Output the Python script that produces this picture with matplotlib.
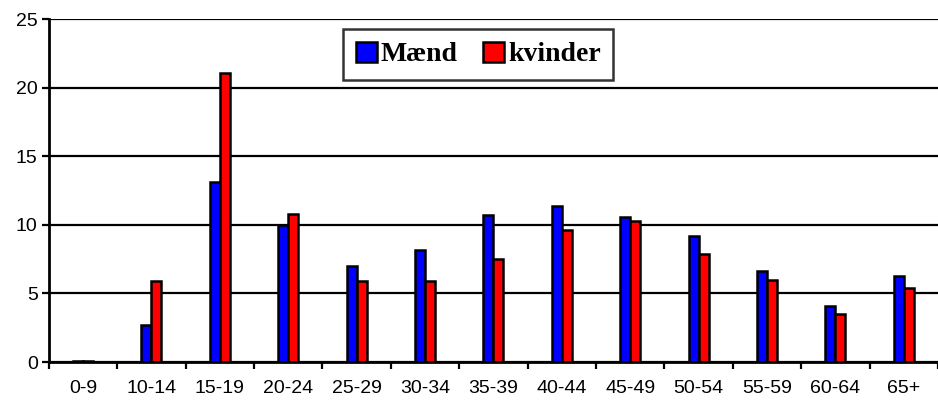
import matplotlib.pyplot as plt
import numpy as np

age_groups = ["0-9", "10-14", "15-19", "20-24", "25-29", "30-34", "35-39",
              "40-44", "45-49", "50-54", "55-59", "60-64", "65+"]
maend = [0.1, 2.7, 13.1, 10.0, 7.0, 8.2, 10.7, 11.4, 10.6, 9.2, 6.6, 4.1, 6.3]
kvinder = [0.1, 5.9, 21.1, 10.8, 5.9, 5.9, 7.5, 9.6, 10.3, 7.9, 6.0, 3.5, 5.4]

plt.rcParams["font.family"] = ["Liberation Sans", "DejaVu Sans"]

fig = plt.figure(figsize=(9.38, 4.03), dpi=100)
ax = fig.add_axes([0.052, 0.1017, 0.948, 0.851])

x = np.arange(len(age_groups))
width = 0.146
ax.bar(x - width / 2, maend, width, color="#0000ff", edgecolor="black",
       linewidth=1.8, label="Mænd", zorder=3)
ax.bar(x + width / 2, kvinder, width, color="#ff0000", edgecolor="black",
       linewidth=1.8, label="kvinder", zorder=3)

ax.set_xlim(-0.5, len(age_groups) - 0.5)
ax.set_ylim(0, 25)
ax.set_yticks(range(0, 26, 5))
ax.yaxis.grid(True, color="black", linewidth=1.6, zorder=0)

ax.set_xticks(np.arange(len(age_groups) + 1) - 0.5)
ax.set_xticklabels([])
ax.set_xticks(x, minor=True)
ax.set_xticklabels(age_groups, minor=True)
ax.tick_params(axis="x", which="minor", length=0, pad=13, labelsize=14)
ax.tick_params(axis="x", which="major", length=5, width=1.6)
ax.tick_params(axis="y", length=5, width=1.6, labelsize=14, pad=3)

for side in ["top", "right"]:
    ax.spines[side].set_visible(False)
for side in ["left", "bottom"]:
    ax.spines[side].set_linewidth(2)
ax.spines["bottom"].set_zorder(4)

leg = ax.legend(loc="upper center", bbox_to_anchor=(0.483, 0.971), ncol=2,
                borderaxespad=0, frameon=True, fancybox=False, edgecolor="black",
                prop={"family": "Liberation Serif", "weight": "bold", "size": 20},
                handlelength=0.75, handleheight=0.75, handletextpad=0.15,
                columnspacing=0.9, borderpad=0.45)
leg.get_frame().set_linewidth(1.8)
leg.set_zorder(5)

fig.savefig("out.png", dpi=100)
